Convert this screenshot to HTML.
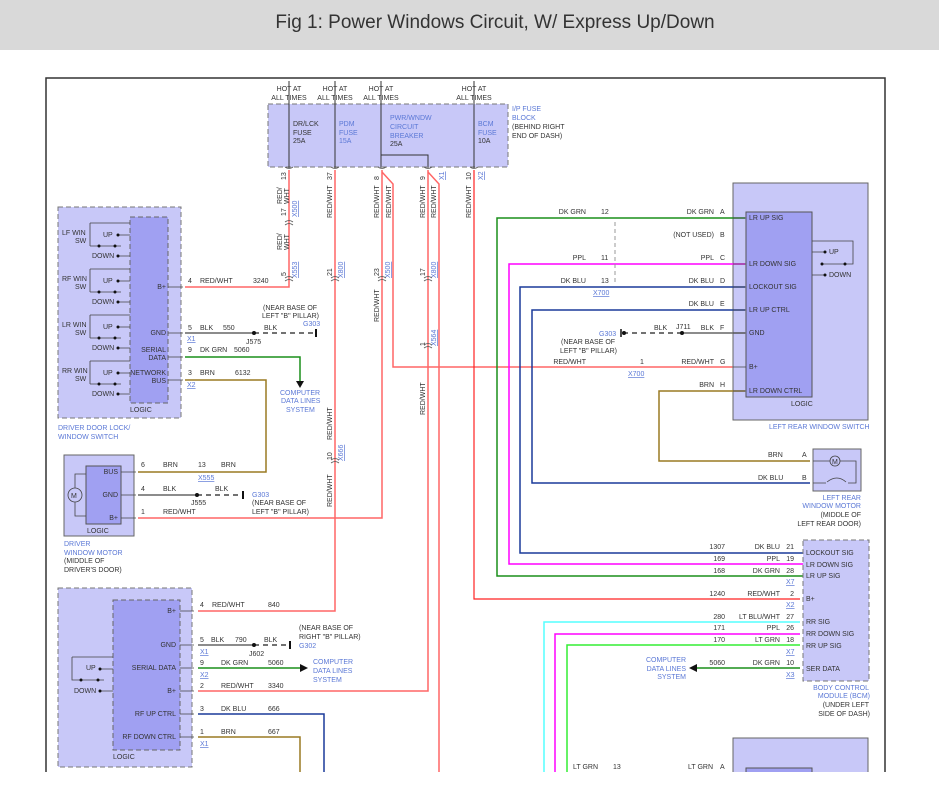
<!DOCTYPE html>
<html><head><meta charset="utf-8"><style>
body{margin:0;background:#fff;}
svg text{font-family:"Liberation Sans",sans-serif;font-size:7px;fill:#333;}
svg .b{fill:#5b78d6;}
svg .u{fill:#5b78d6;text-decoration:underline;}
</style></head><body>
<svg width="939" height="800" viewBox="0 0 939 800" xmlns="http://www.w3.org/2000/svg">
<rect x="0" y="0" width="939" height="50" fill="#d9d9d9"/>
<text x="495" y="28" text-anchor="middle" style="font-size:19px;fill:#333">Fig 1: Power Windows Circuit, W/ Express Up/Down</text>
<!-- frame -->
<path d="M46,772 V78 H885 V772" fill="none" stroke="#333" stroke-width="1.5"/>

<!-- fuse block -->
<rect x="268" y="104" width="240" height="63" fill="#c8c8f8" stroke="#777" stroke-dasharray="5,3"/>
<g text-anchor="middle">
<text x="289" y="91">HOT AT</text><text x="289" y="100">ALL TIMES</text>
<text x="335" y="91">HOT AT</text><text x="335" y="100">ALL TIMES</text>
<text x="381" y="91">HOT AT</text><text x="381" y="100">ALL TIMES</text>
<text x="474" y="91">HOT AT</text><text x="474" y="100">ALL TIMES</text>
</g>
<g stroke="#333" fill="none">
<path d="M289,81 V168 M335,81 V168 M381,81 V168 M474,81 V168 M381,155 H428 V168"/>
</g>
<text x="293" y="126">DR/LCK</text><text x="293" y="135">FUSE</text><text x="293" y="143">25A</text>
<text x="339" y="126" class="b">PDM</text><text x="339" y="135" class="b">FUSE</text><text x="339" y="143" class="b">15A</text>
<text x="390" y="120" class="b">PWR/WNDW</text><text x="390" y="129" class="b">CIRCUIT</text><text x="390" y="138" class="b">BREAKER</text><text x="390" y="146">25A</text>
<text x="478" y="126" class="b">BCM</text><text x="478" y="135" class="b">FUSE</text><text x="478" y="143">10A</text>
<text x="512" y="111" class="b">I/P FUSE</text><text x="512" y="120" class="b">BLOCK</text><text x="512" y="129">(BEHIND RIGHT</text><text x="512" y="138">END OF DASH)</text>

<!-- red/wht wires -->
<g fill="none" stroke="#f66" stroke-width="1.5">
<path d="M289,170 V287 H185"/>
<path d="M335,170 V611 H198"/>
<path d="M382,170 V518 H138"/>
<path d="M382,172 L393,184 V367 H745"/>
<path d="M428,170 V691 H198"/>
<path d="M428,172 L439,184 V772"/>
</g>
<g fill="none" stroke="#f22" stroke-width="1.2">
<path d="M474,170 V599 H800"/>
</g>

<!-- vertical labels -->
<g>
<text transform="translate(282,204) rotate(-90)">RED/</text><text transform="translate(289,204) rotate(-90)">WHT</text>
<text transform="translate(282,250) rotate(-90)">RED/</text><text transform="translate(289,250) rotate(-90)">WHT</text>
<text transform="translate(332,218) rotate(-90)">RED/WHT</text>
<text transform="translate(379,218) rotate(-90)">RED/WHT</text>
<text transform="translate(391,218) rotate(-90)">RED/WHT</text>
<text transform="translate(425,218) rotate(-90)">RED/WHT</text>
<text transform="translate(436,218) rotate(-90)">RED/WHT</text>
<text transform="translate(471,218) rotate(-90)">RED/WHT</text>
<text transform="translate(379,322) rotate(-90)">RED/WHT</text>
<text transform="translate(425,415) rotate(-90)">RED/WHT</text>
<text transform="translate(332,440) rotate(-90)">RED/WHT</text>
<text transform="translate(332,507) rotate(-90)">RED/WHT</text>
<text transform="translate(286,180) rotate(-90)">13</text>
<text transform="translate(332,180) rotate(-90)">37</text>
<text transform="translate(379,180) rotate(-90)">8</text>
<text transform="translate(425,180) rotate(-90)">9</text>
<text transform="translate(444,180) rotate(-90)" class="u">X1</text>
<text transform="translate(471,180) rotate(-90)">10</text>
<text transform="translate(483,180) rotate(-90)" class="u">X2</text>
<text transform="translate(286,216) rotate(-90)">17</text><text transform="translate(297,217) rotate(-90)" class="u">X500</text>
<text transform="translate(286,276) rotate(-90)">5</text><text transform="translate(297,278) rotate(-90)" class="u">X553</text>
<text transform="translate(332,276) rotate(-90)">21</text><text transform="translate(343,278) rotate(-90)" class="u">X800</text>
<text transform="translate(379,276) rotate(-90)">23</text><text transform="translate(390,278) rotate(-90)" class="u">X500</text>
<text transform="translate(425,276) rotate(-90)">17</text><text transform="translate(436,278) rotate(-90)" class="u">X800</text>
<text transform="translate(425,346) rotate(-90)">1</text><text transform="translate(436,346) rotate(-90)" class="u">X564</text>
<text transform="translate(332,460) rotate(-90)">10</text><text transform="translate(343,461) rotate(-90)" class="u">X666</text>
</g>
<!-- inline connectors on verticals -->
<g fill="none" stroke="#555" stroke-width="0.8">
<path d="M285,167 q4,3 8,0 M331,167 q4,3 8,0 M378,167 q4,3 8,0 M424,167 q4,3 8,0 M470,167 q4,3 8,0"/>
<path d="M285,222 q4,-3 8,0 M285,225 q4,-3 8,0"/>
<path d="M285,278 q4,-3 8,0 M285,281 q4,-3 8,0 M331,278 q4,-3 8,0 M331,281 q4,-3 8,0 M378,278 q4,-3 8,0 M378,281 q4,-3 8,0 M424,278 q4,-3 8,0 M424,281 q4,-3 8,0"/>
<path d="M424,345 q4,-3 8,0 M424,348 q4,-3 8,0 M331,460 q4,-3 8,0 M331,463 q4,-3 8,0"/>
</g>

<!-- driver door lock switch -->
<rect x="58" y="207" width="123" height="211" fill="#c8c8f8" stroke="#777" stroke-dasharray="5,3"/>
<rect x="130" y="217" width="38" height="186" fill="#a0a0f2" stroke="#666" stroke-dasharray="5,3"/>
<g stroke="#444" fill="none" stroke-width="0.8">
<path d="M90,223 V246 M90,223 H130 M90,246 H121 M90,269 V292 M90,269 H130 M90,292 H121 M90,315 V338 M90,315 H130 M90,338 H121 M90,361 V384 M90,361 H130 M90,384 H121"/>
<path d="M118,235 H130 M118,256 H130 M118,281 H130 M118,302 H130 M118,327 H130 M118,348 H130 M118,373 H130 M118,394 H130"/>
<path d="M168,287 H183 M168,333 H183 M168,357 H183 M168,380 H183"/>
</g>
<g fill="#111">
<circle cx="118" cy="235" r="1.5"/><circle cx="118" cy="256" r="1.5"/><circle cx="99" cy="246" r="1.5"/><circle cx="115" cy="246" r="1.5"/>
<circle cx="118" cy="281" r="1.5"/><circle cx="118" cy="302" r="1.5"/><circle cx="99" cy="292" r="1.5"/><circle cx="115" cy="292" r="1.5"/>
<circle cx="118" cy="327" r="1.5"/><circle cx="118" cy="348" r="1.5"/><circle cx="99" cy="338" r="1.5"/><circle cx="115" cy="338" r="1.5"/>
<circle cx="118" cy="373" r="1.5"/><circle cx="118" cy="394" r="1.5"/><circle cx="99" cy="384" r="1.5"/><circle cx="115" cy="384" r="1.5"/>
</g>
<text x="62" y="235">LF WIN</text><text x="75" y="243">SW</text><text x="103" y="237">UP</text><text x="92" y="258">DOWN</text>
<text x="62" y="281">RF WIN</text><text x="75" y="289">SW</text><text x="103" y="283">UP</text><text x="92" y="304">DOWN</text>
<text x="62" y="327">LR WIN</text><text x="75" y="335">SW</text><text x="103" y="329">UP</text><text x="92" y="350">DOWN</text>
<text x="62" y="373">RR WIN</text><text x="75" y="381">SW</text><text x="103" y="375">UP</text><text x="92" y="396">DOWN</text>
<g text-anchor="end"><text x="166" y="289">B+</text><text x="166" y="335">GND</text><text x="166" y="352">SERIAL</text><text x="166" y="360">DATA</text><text x="166" y="375">NETWORK</text><text x="166" y="383">BUS</text></g>
<text x="130" y="412">LOGIC</text>
<text x="58" y="430" class="b">DRIVER DOOR LOCK/</text><text x="58" y="439" class="b">WINDOW SWITCH</text>

<g fill="none" stroke-width="1.5">
<path d="M185,333 H254" stroke="#666"/>
<path d="M254,333 H316" stroke="#444" stroke-dasharray="5,4"/>
<path d="M185,357 H300 V383" stroke="#1a8f1a"/>
<path d="M185,380 H266 V472 H138" stroke="#9a7a22"/>
</g>
<circle cx="254" cy="333" r="2" fill="#111"/>
<path d="M296,381 L304,381 L300,388 Z" fill="#111"/>
<path d="M316,329 V337" stroke="#111" stroke-width="2"/>
<text x="188" y="283">4</text><text x="200" y="283">RED/WHT</text><text x="253" y="283">3240</text>
<text x="263" y="310">(NEAR BASE OF</text><text x="262" y="318">LEFT "B" PILLAR)</text><text x="303" y="326" class="b">G303</text>
<text x="188" y="330">5</text><text x="200" y="330">BLK</text><text x="223" y="330">550</text><text x="264" y="330">BLK</text>
<text x="187" y="341" class="u">X1</text><text x="246" y="344">J575</text>
<text x="188" y="352">9</text><text x="200" y="352">DK GRN</text><text x="234" y="352">5060</text>
<text x="188" y="375">3</text><text x="200" y="375">BRN</text><text x="235" y="375">6132</text>
<text x="187" y="387" class="u">X2</text>
<text x="280" y="395" class="b">COMPUTER</text><text x="281" y="403" class="b">DATA LINES</text><text x="286" y="412" class="b">SYSTEM</text>

<!-- driver motor -->
<rect x="64" y="455" width="70" height="81" fill="#c8c8f8" stroke="#666"/>
<rect x="86" y="466" width="35" height="58" fill="#a0a0f2" stroke="#555"/>
<g stroke="#444" fill="none" stroke-width="0.8">
<circle cx="75" cy="495" r="7"/>
<path d="M75,488 V474 H86 M75,502 V516 H86 M121,472 H136 M121,495 H136 M121,518 H136"/>
</g>
<text x="71" y="498">M</text>
<g text-anchor="end"><text x="118" y="474">BUS</text><text x="118" y="497">GND</text><text x="118" y="520">B+</text></g>
<text x="87" y="533">LOGIC</text>
<text x="64" y="546" class="b">DRIVER</text><text x="64" y="555" class="b">WINDOW MOTOR</text><text x="64" y="563">(MIDDLE OF</text><text x="64" y="572">DRIVER'S DOOR)</text>
<path d="M138,495 H197" stroke="#666" stroke-width="1.5"/>
<path d="M197,495 H243" stroke="#444" stroke-width="1.5" stroke-dasharray="5,4"/>
<circle cx="197" cy="495" r="2" fill="#111"/><path d="M243,491 V499" stroke="#111" stroke-width="2"/>
<text x="141" y="467">6</text><text x="163" y="467">BRN</text><text x="198" y="467">13</text><text x="221" y="467">BRN</text><text x="198" y="480" class="u">X555</text>
<text x="141" y="491">4</text><text x="163" y="491">BLK</text><text x="215" y="491">BLK</text><text x="191" y="505">J555</text>
<text x="252" y="497" class="b">G303</text><text x="252" y="505">(NEAR BASE OF</text><text x="252" y="514">LEFT "B" PILLAR)</text>
<text x="141" y="514">1</text><text x="163" y="514">RED/WHT</text>

<!-- bottom-left switch -->
<rect x="58" y="588" width="134" height="179" fill="#c8c8f8" stroke="#777" stroke-dasharray="5,3"/>
<rect x="113" y="600" width="67" height="150" fill="#a0a0f2" stroke="#666" stroke-dasharray="5,3"/>
<g stroke="#444" fill="none" stroke-width="0.8">
<path d="M72,657 V680 H104 M72,657 H113 M100,669 H113 M100,691 H113"/>
<path d="M180,611 H194 M180,645 H194 M180,668 H194 M180,691 H194 M180,714 H194 M180,737 H194"/>
</g>
<g fill="#111"><circle cx="100" cy="669" r="1.5"/><circle cx="100" cy="691" r="1.5"/><circle cx="81" cy="680" r="1.5"/><circle cx="98" cy="680" r="1.5"/></g>
<text x="86" y="670">UP</text><text x="74" y="693">DOWN</text>
<g text-anchor="end"><text x="176" y="613">B+</text><text x="176" y="647">GND</text><text x="176" y="670">SERIAL DATA</text><text x="176" y="693">B+</text><text x="176" y="716">RF UP CTRL</text><text x="176" y="739">RF DOWN CTRL</text></g>
<text x="113" y="759">LOGIC</text>
<g fill="none" stroke-width="1.5">
<path d="M198,645 H254" stroke="#666"/>
<path d="M254,645 H290" stroke="#444" stroke-dasharray="5,4"/>
<path d="M198,668 H300" stroke="#1a8f1a"/>
<path d="M198,714 H324 V772" stroke="#1a3a9a"/>
<path d="M198,737 H300 V772" stroke="#9a7a22"/>
</g>
<circle cx="254" cy="645" r="2" fill="#111"/><path d="M290,641 V649" stroke="#111" stroke-width="2"/>
<path d="M300,664 L308,668 L300,672 Z" fill="#111"/>
<text x="200" y="607">4</text><text x="212" y="607">RED/WHT</text><text x="268" y="607">840</text>
<text x="200" y="642">5</text><text x="211" y="642">BLK</text><text x="235" y="642">790</text><text x="264" y="642">BLK</text>
<text x="200" y="654" class="u">X1</text><text x="249" y="656">J602</text>
<text x="299" y="630">(NEAR BASE OF</text><text x="299" y="639">RIGHT "B" PILLAR)</text><text x="299" y="648" class="b">G302</text>
<text x="200" y="665">9</text><text x="221" y="665">DK GRN</text><text x="268" y="665">5060</text><text x="200" y="677" class="u">X2</text>
<text x="313" y="664" class="b">COMPUTER</text><text x="313" y="673" class="b">DATA LINES</text><text x="313" y="682" class="b">SYSTEM</text>
<text x="200" y="688">2</text><text x="221" y="688">RED/WHT</text><text x="268" y="688">3340</text>
<text x="200" y="711">3</text><text x="221" y="711">DK BLU</text><text x="268" y="711">666</text>
<text x="200" y="734">1</text><text x="221" y="734">BRN</text><text x="268" y="734">667</text><text x="200" y="746" class="u">X1</text>

<!-- left rear window switch -->
<rect x="733" y="183" width="135" height="237" fill="#c8c8f8" stroke="#666"/>
<rect x="746" y="212" width="66" height="185" fill="#a0a0f2" stroke="#555"/>
<g fill="none" stroke-width="1.5">
<path d="M745,218 H497 V576 H803" stroke="#1a8f1a"/>
<path d="M745,264 H509 V564 H803" stroke="#f0f"/>
<path d="M745,287 H520 V553 H803" stroke="#1a3a9a"/>
<path d="M745,310 H532 V483 H810" stroke="#1a3a9a"/>
<path d="M745,391 H659 V461 H810" stroke="#9a7a22"/>
<path d="M745,333 H682" stroke="#666"/>
<path d="M682,333 H622" stroke="#444" stroke-dasharray="5,4"/>
</g>
<path d="M615,222 V283" stroke="#999" stroke-dasharray="4,3"/>
<circle cx="682" cy="333" r="2" fill="#111"/><circle cx="624" cy="333" r="2" fill="#111"/><path d="M621,329 V337" stroke="#111" stroke-width="1.5"/>
<g stroke="#444" fill="none" stroke-width="0.8">
<path d="M733,218 H746 M733,264 H746 M733,287 H746 M733,310 H746 M733,333 H746 M733,367 H746 M733,391 H746"/>
<path d="M812,241 H853 V264 H823 M812,252 H825 M812,275 H825"/>
</g>
<g fill="#111"><circle cx="825" cy="252" r="1.5"/><circle cx="825" cy="275" r="1.5"/><circle cx="822" cy="264" r="1.5"/><circle cx="845" cy="264" r="1.5"/></g>
<text x="829" y="254">UP</text><text x="829" y="277">DOWN</text>
<g><text x="749" y="220">LR UP SIG</text><text x="749" y="266">LR DOWN SIG</text><text x="749" y="289">LOCKOUT SIG</text><text x="749" y="312">LR UP CTRL</text><text x="749" y="335">GND</text><text x="749" y="369">B+</text><text x="749" y="393">LR DOWN CTRL</text></g>
<text x="791" y="406">LOGIC</text>
<text x="769" y="429" class="b">LEFT REAR WINDOW SWITCH</text>
<g text-anchor="end">
<text x="714" y="214">DK GRN</text><text x="714" y="237">(NOT USED)</text><text x="714" y="260">PPL</text><text x="714" y="283">DK BLU</text><text x="714" y="306">DK BLU</text><text x="714" y="330">BLK</text><text x="714" y="364">RED/WHT</text><text x="714" y="387">BRN</text>
<text x="586" y="214">DK GRN</text><text x="586" y="260">PPL</text><text x="586" y="283">DK BLU</text><text x="586" y="364">RED/WHT</text>
</g>
<text x="720" y="214">A</text><text x="720" y="237">B</text><text x="720" y="260">C</text><text x="720" y="283">D</text><text x="720" y="306">E</text><text x="720" y="330">F</text><text x="720" y="364">G</text><text x="720" y="387">H</text>
<text x="601" y="214">12</text><text x="601" y="260">11</text><text x="601" y="283">13</text><text x="593" y="295" class="u">X700</text>
<text x="676" y="329">J711</text><text x="654" y="330">BLK</text>
<text x="599" y="336" class="b">G303</text><text x="561" y="344">(NEAR BASE OF</text><text x="560" y="353">LEFT "B" PILLAR)</text>
<text x="640" y="364">1</text><text x="628" y="376" class="u">X700</text>

<!-- LR motor -->
<rect x="813" y="449" width="48" height="42" fill="#c8c8f8" stroke="#666"/>
<g stroke="#444" fill="none" stroke-width="0.8">
<circle cx="835" cy="461" r="5"/><path d="M813,461 H830 M840,461 H856 V483 H848 M813,483 H826"/>
<path d="M827,482 q10,-8 19,0"/>
</g>
<text x="832" y="464">M</text>
<text x="768" y="457">BRN</text><text x="802" y="457">A</text><text x="758" y="480">DK BLU</text><text x="802" y="480">B</text>
<g text-anchor="end"><text x="861" y="500" class="b">LEFT REAR</text><text x="861" y="508" class="b">WINDOW MOTOR</text><text x="861" y="517">(MIDDLE OF</text><text x="861" y="526">LEFT REAR DOOR)</text></g>

<!-- BCM -->
<rect x="803" y="540" width="66" height="141" fill="#c8c8f8" stroke="#777" stroke-dasharray="5,3"/>
<g fill="none" stroke-width="1.5">
<path d="M800,622 H544 V772" stroke="#5ff"/>
<path d="M800,634 H555 V772" stroke="#f0f"/>
<path d="M800,645 H567 V772" stroke="#3e3"/>
<path d="M800,668 H694" stroke="#1a8f1a"/>
</g>
<path d="M689,668 L697,664 L697,672 Z" fill="#111"/>
<g><text x="806" y="555">LOCKOUT SIG</text><text x="806" y="567">LR DOWN SIG</text><text x="806" y="578">LR UP SIG</text><text x="806" y="601">B+</text><text x="806" y="624">RR SIG</text><text x="806" y="636">RR DOWN SIG</text><text x="806" y="648">RR UP SIG</text><text x="806" y="671">SER DATA</text></g>
<g text-anchor="end">
<text x="725" y="549">1307</text><text x="780" y="549">DK BLU</text><text x="794" y="549">21</text>
<text x="725" y="561">169</text><text x="780" y="561">PPL</text><text x="794" y="561">19</text>
<text x="725" y="573">168</text><text x="780" y="573">DK GRN</text><text x="794" y="573">28</text>
<text x="725" y="596">1240</text><text x="780" y="596">RED/WHT</text><text x="794" y="596">2</text>
<text x="725" y="619">280</text><text x="780" y="619">LT BLU/WHT</text><text x="794" y="619">27</text>
<text x="725" y="630">171</text><text x="780" y="630">PPL</text><text x="794" y="630">26</text>
<text x="725" y="642">170</text><text x="780" y="642">LT GRN</text><text x="794" y="642">18</text>
<text x="725" y="665">5060</text><text x="780" y="665">DK GRN</text><text x="794" y="665">10</text>
<text x="686" y="662" class="b">COMPUTER</text><text x="686" y="671" class="b">DATA LINES</text><text x="686" y="679" class="b">SYSTEM</text>
</g>
<text x="786" y="584" class="u">X7</text><text x="786" y="607" class="u">X2</text><text x="786" y="654" class="u">X7</text><text x="786" y="677" class="u">X3</text>
<g text-anchor="end"><text x="869" y="690" class="b">BODY CONTROL</text><text x="870" y="698" class="b">MODULE (BCM)</text><text x="869" y="707">(UNDER LEFT</text><text x="870" y="716">SIDE OF DASH)</text></g>

<!-- bottom right box -->
<rect x="733" y="738" width="135" height="40" fill="#c8c8f8" stroke="#666"/>
<rect x="746" y="768" width="66" height="10" fill="#a0a0f2" stroke="#555"/>
<text x="573" y="769">LT GRN</text><text x="613" y="769">13</text><text x="688" y="769">LT GRN</text><text x="720" y="769">A</text>
<rect x="0" y="772" width="939" height="28" fill="#fff"/>
</svg>
</body></html>
